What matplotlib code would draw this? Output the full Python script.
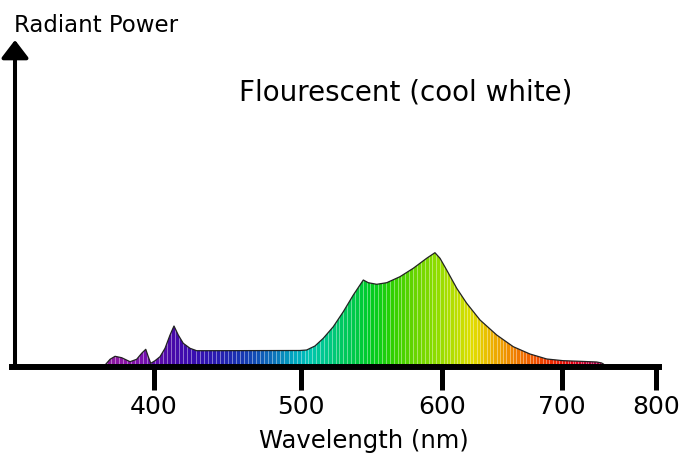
import numpy as np
import matplotlib
matplotlib.use("Agg")
import matplotlib.pyplot as plt
from matplotlib.patches import Polygon
from matplotlib.colors import LinearSegmentedColormap, Normalize

# spectrum (wavelength nm, relative power)
wavelength = [367.3, 370.1, 373.5, 378.0, 383.7, 388.2, 391.6, 394.4, 396.1, 397.8,
              400.7, 404.1, 407.5, 410.9, 413.6, 416.5, 419.9, 424.5, 429.0, 435.9,
              465.3, 499.3, 504.0, 509.9, 515.8, 522.9, 530.0, 537.1, 544.2, 547.7,
              553.7, 560.8, 570.2, 579.6, 589.1, 595.0, 598.6, 603.9, 612.3, 620.6,
              631.7, 645.6, 659.4, 673.3, 687.3, 701.4, 719.1, 736.9, 742.2, 744.0]
power = [3.0, 7.7, 10.7, 9.3, 5.3, 7.7, 13.7, 17.7, 10.3, 3.7,
         6.3, 10.3, 18.7, 32.0, 41.0, 32.0, 23.7, 18.7, 16.3, 16.3,
         16.4, 16.5, 17.0, 21.0, 28.7, 40.3, 55.3, 72.0, 87.0, 84.3,
         82.7, 84.3, 90.3, 98.7, 108.7, 114.3, 108.7, 97.0, 78.7, 63.7,
         47.0, 32.0, 20.3, 13.0, 8.0, 6.3, 5.7, 5.0, 4.0, 3.0]

tick_values = [400, 500, 600, 700, 800]
tick_labels = ["400", "500", "600", "700", "800"]

# colour of the light at each wavelength
spec_nm = [365, 380, 395, 410, 425, 440, 455, 470, 485, 495, 505, 515, 530,
           550, 565, 580, 595, 610, 625, 640, 655, 670, 690, 710, 730, 745]
spec_hex = ["#8a1a9a", "#8c14a8", "#7010b0", "#4a08a8", "#3a0cb0", "#2a1ab0",
            "#1a2fb0", "#1050b5", "#0b80bb", "#00a8c0", "#00c4b4", "#00c890",
            "#00c860", "#00cc22", "#30d000", "#66d400", "#8cdc00", "#b8de00",
            "#e0de00", "#ecb800", "#f09000", "#f06800", "#f03000", "#e80010",
            "#c00040", "#a00050"]

# the drawn axis is not linear: tick positions in the original drawing
anchor_nm = np.array([300, 400, 500, 600, 700, 800, 900], float)
anchor_px = np.array([7, 154, 301, 442, 562, 656, 750], float)


def fwd(v):
    return np.interp(v, anchor_nm, anchor_px)


def inv(v):
    return np.interp(v, anchor_px, anchor_nm)


FONT = "DejaVu Sans"

fig = plt.figure(figsize=(6.82, 4.55), dpi=100)
ax = fig.add_axes([12 / 682, 88 / 455, 647 / 682, 327 / 455])
ax.set_xscale("function", functions=(fwd, inv))
ax.set_xlim(303.4, 803.2)
ax.set_ylim(0, 327)

# clip shape under the curve
verts = np.column_stack([np.r_[wavelength[0], wavelength, wavelength[-1]],
                         np.r_[0, power, 0]])
shape = Polygon(verts, closed=True, facecolor="none", edgecolor="none")
ax.add_patch(shape)

cmap = LinearSegmentedColormap.from_list(
    "spec", list(zip((np.array(spec_nm) - spec_nm[0]) / (spec_nm[-1] - spec_nm[0]), spec_hex)))
norm = Normalize(spec_nm[0], spec_nm[-1])
step = 2.75
edges = np.arange(365, 746, step)
bars = ax.bar(edges, 327, width=step, align="edge", color=cmap(norm(edges + step / 2)),
              edgecolor=(1, 1, 1, 0.3), linewidth=0.4, zorder=1)
for b in bars:
    b.set_clip_path(shape)

ax.plot(wavelength, power, color="#222222", lw=0.9, zorder=2)

for s in ["top", "right", "left"]:
    ax.spines[s].set_visible(False)
ax.spines["bottom"].set_linewidth(4.3)
ax.spines["bottom"].set_zorder(3)
ax.set_yticks([])
ax.set_xticks(tick_values)
ax.set_xticklabels(tick_labels, fontsize=18, family=FONT)
ax.xaxis.set_minor_locator(matplotlib.ticker.NullLocator())
ax.tick_params(axis="x", direction="out", length=16.5, width=3.6, pad=4)

# vertical arrow
ax.annotate("", xy=(3 / 647, 1.0), xytext=(3 / 647, 0), xycoords="axes fraction",
            arrowprops=dict(arrowstyle="-|>,head_length=0.72,head_width=0.55",
                            lw=2.9, color="black", mutation_scale=15,
                            shrinkA=0, shrinkB=0), zorder=4)

fig.text(14 / 682, 1 - 32 / 455, "Radiant Power", fontsize=16.5, family=FONT,
         ha="left", va="baseline")
fig.text(406 / 682, 1 - 100 / 455, "Flourescent (cool white)", fontsize=20,
         family=FONT, ha="center", va="baseline")
fig.text(364 / 682, 1 - 448 / 455, "Wavelength (nm)", fontsize=17.5, family=FONT,
         ha="center", va="baseline")

fig.savefig("out.png", dpi=100)
